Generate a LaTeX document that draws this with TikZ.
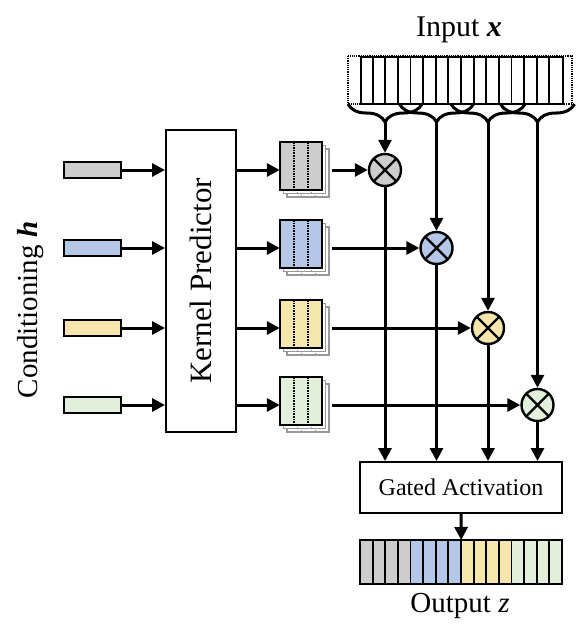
\documentclass[tikz,border=0pt]{standalone}
\usepackage{fontspec}
\setmainfont{Liberation Serif}
\usetikzlibrary{arrows.meta,decorations.pathreplacing}
\definecolor{cgray}{HTML}{CDCDCD}
\definecolor{cblue}{HTML}{B4C7E7}
\definecolor{cyellow}{HTML}{F5E7AC}
\definecolor{cgreen}{HTML}{E2EFDA}
\begin{document}
\begin{tikzpicture}[x=1pt,y=-1pt,
  arr/.style={line width=3pt,-{Triangle[length=13pt,width=13pt]}},
  ln/.style={line width=3pt},
  condbox/.style={draw,line width=2pt,minimum width=57pt,minimum height=16pt,inner sep=0pt},
  kfront/.style={draw,line width=2pt,minimum width=42pt,minimum height=48pt,inner sep=0pt},
  kback/.style={draw=black!40,fill=white,line width=1.5pt,minimum width=42pt,minimum height=48pt,inner sep=0pt},
  stackbox/.style={minimum width=49pt,minimum height=55pt,inner sep=0pt},
  mult/.style={circle,draw,line width=2.4pt,minimum size=32pt,inner sep=0pt,
    path picture={\draw[line width=2.4pt] (path picture bounding box.north west)--(path picture bounding box.south east) (path picture bounding box.north east)--(path picture bounding box.south west);}},
  bigbox/.style={draw,line width=2pt,inner sep=0pt},
  gridline/.style={line width=1.8pt},
]
\useasboundingbox (0,0) rectangle (581,642);

% conditioning label
\node[rotate=90,font=\fontsize{29}{33}\selectfont] (tc) at (31,310) {Conditioning \textbf{\textit{h}}};

% kernel predictor
\node[bigbox,fill=white,minimum width=70pt,minimum height=302pt] (kp) at (201,281) {};
\node[rotate=90,font=\fontsize{31}{35}\selectfont] (kpt) at (kp.center) {Kernel Predictor};

% input
\draw[densely dotted,line width=1.2pt] (348,56) rectangle (572,104);
\node[bigbox,fill=white,minimum width=202pt,minimum height=47pt,anchor=north west] (inp) at (360,56) {};
\foreach \j in {1,...,15} \draw[gridline] (360+\j*12.625,56) -- (360+\j*12.625,103);
\node[font=\fontsize{30}{34}\selectfont] (tin) at (459,30) {Input \textbf{\textit{x}}};

% gated activation
\node[bigbox,minimum width=202pt,minimum height=51pt,font=\fontsize{24}{28}\selectfont] (ga) at (461,487.5) {Gated Activation};

% output
\node[minimum width=202pt,minimum height=44pt,inner sep=0pt,anchor=north west] (out) at (360,540) {};
\foreach \j in {0,...,15}{
  \pgfmathtruncatemacro{\g}{int(\j/4)}
  \ifcase\g \def\cc{cgray}\or \def\cc{cblue}\or \def\cc{cyellow}\else \def\cc{cgreen}\fi
  \draw[gridline,fill=\cc] (360+\j*12.625,540) rectangle (360+\j*12.625+12.625,584);
}
\node[font=\fontsize{29}{33}\selectfont] (tout) at (460,606) {Output \textit{z}};
\draw[arr] (ga.south) -- (out.north);

% rows
\foreach \i/\y/\c/\mx in {1/170/cgray/385, 2/248/cblue/436.5, 3/328/cyellow/488, 4/405/cgreen/537.5}{
  \node[condbox,fill=\c] (c\i) at (92,\y) {};
  \draw[arr] (c\i.east) -- (c\i.east -| kp.west);
  % kernel stack
  \node[stackbox] (s\i) at (304.5,\y) {};
  \node[kback] (kb\i) at (308,\y+3) {};
  \draw[densely dotted,line width=1pt,black!40] (301,\y-21) -- (301,\y+27) (315,\y-21) -- (315,\y+27);
  \node[kback] (ka\i) at (304.5,\y-0.5) {};
  \draw[densely dotted,line width=1pt,black!40] (297.5,\y-24.5) -- (297.5,\y+23.5) (311.5,\y-24.5) -- (311.5,\y+23.5);
  \node[kfront,fill=\c] (k\i) at (301,\y-4) {};
  \draw[densely dotted,line width=1.6pt] (294,\y-28) -- (294,\y+20) (308,\y-28) -- (308,\y+20);
  \draw[arr] (kp.east |- s\i.west) -- (s\i.west);
  % multiplier
  \node[mult,fill=\c] (m\i) at (\mx,\y) {};
  \draw[arr,shorten <=3pt] (s\i.east) -- (m\i.west);
  % brace and arrows
  \draw[ln,decorate,decoration={brace,mirror,amplitude=18pt}] (\mx-37,104) -- (\mx+37,104);
  \coordinate (t\i) at (\mx,122);
  \draw[arr] (t\i) -- (m\i.north);
  \draw[arr] (m\i.south) -- (m\i.south |- ga.north);
}
\end{tikzpicture}
\end{document}
